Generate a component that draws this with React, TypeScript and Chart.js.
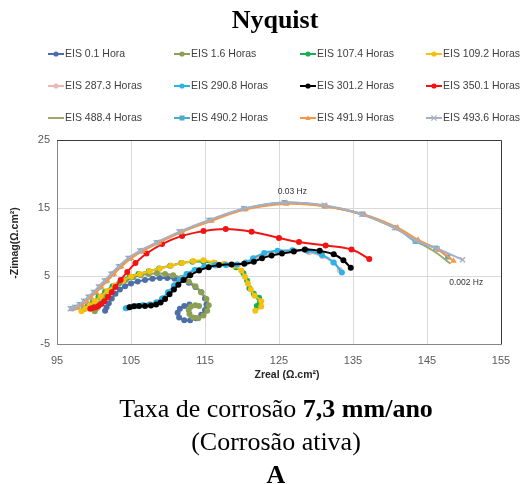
import React, { useEffect, useRef } from 'react';
import { Chart, registerables } from 'chart.js';
Chart.register(...registerables);

// ---------- data ----------
const seriesLabels = [
  'EIS 0.1 Hora', 'EIS 1.6 Horas', 'EIS 107.4 Horas', 'EIS 109.2 Horas',
  'EIS 287.3 Horas', 'EIS 290.8 Horas', 'EIS 301.2 Horas', 'EIS 350.1 Horas',
  'EIS 488.4 Horas', 'EIS 490.2 Horas', 'EIS 491.9 Horas', 'EIS 493.6 Horas',
];
const seriesColors = [
  '#4D6FA8', '#8C9F52', '#1AAF54', '#F5C010',
  '#E6B9B8', '#2AB3E6', '#000000', '#F01414',
  '#A2A86B', '#4BACC6', '#F79646', '#A9AFC3',
];
const seriesMarkers = [
  'circle', 'circle', 'circle', 'circle',
  'circle', 'circle', 'circle', 'circle',
  'none', 'rect', 'triangle', 'crossRot',
];

const eis01 = [[101.5,-0.1],[101.7,0.4],[102.0,1.0],[102.4,1.7],[102.9,2.4],[103.5,3.0],[104.2,3.5],[105.0,3.9],[105.9,4.2],[106.9,4.4],[107.9,4.6],[108.9,4.7],[109.9,4.7],[110.9,4.6],[111.9,4.4],[112.8,4.0],[113.7,3.4],[114.5,2.6],[115.0,1.7],[115.2,0.8],[115.0,0.0],[114.5,-0.7],[113.8,-1.2],[113.0,-1.5],[112.2,-1.5],[111.5,-1.1],[111.3,-0.4],[111.6,0.2],[112.2,0.6],[112.9,0.8]];
const eis16 = [[100.1,-0.2],[100.4,0.3],[100.8,1.0],[101.3,1.8],[101.9,2.6],[102.6,3.3],[103.4,3.9],[104.3,4.4],[105.3,4.8],[106.3,5.1],[107.4,5.3],[108.5,5.4],[109.6,5.3],[110.7,5.1],[111.8,4.7],[112.8,4.2],[113.7,3.5],[114.5,2.6],[115.2,1.6],[115.5,0.7],[115.3,-0.1],[114.8,-0.8],[114.1,-1.2],[113.4,-1.1],[112.9,-0.6],[112.8,0.0],[113.1,0.5],[113.7,0.7],[114.2,0.6]];
const eis1074 = [[98.6,0.1],[99.1,0.5],[99.8,1.1],[100.6,1.9],[101.5,2.7],[102.5,3.5],[103.6,4.2],[104.8,4.8],[106.0,5.3],[107.4,5.7],[108.8,6.1],[110.3,6.5],[111.8,6.9],[113.3,7.1],[114.8,7.1],[116.3,6.9],[117.8,6.7],[119.2,6.3],[120.2,5.4],[120.7,4.3],[121.0,3.2],[121.6,2.4],[122.3,1.8],[122.4,1.1],[122.0,0.6]];
const eis1092 = [[98.3,-0.2],[98.8,0.2],[99.4,0.7],[100.1,1.3],[100.9,2.0],[101.8,2.8],[102.8,3.6],[103.9,4.3],[105.0,4.9],[106.2,5.3],[107.5,5.7],[108.9,6.1],[110.4,6.5],[111.9,6.9],[113.4,7.2],[114.8,7.3],[116.2,7.0],[117.6,6.8],[118.9,6.5],[119.9,5.8],[120.4,4.9],[120.8,3.9],[121.2,3.0],[121.7,2.1],[122.6,1.3],[122.6,0.5],[121.8,-0.1]];
const eis2873 = [[104.5,0.3],[105.1,0.5],[105.9,0.6],[106.8,0.7],[107.7,0.8],[108.6,1.2],[109.4,1.8],[110.2,2.7],[111.0,3.7],[111.8,4.6],[112.7,5.3],[113.8,5.9],[115.1,6.3],[116.5,6.5],[118.0,6.6],[119.5,6.7],[120.7,7.0],[121.9,7.6],[123.4,8.3],[125.1,8.6],[127.1,8.7],[129.1,8.5],[130.9,7.9],[132.3,7.0],[133.2,5.9]];
const eis2908 = [[104.3,0.25],[104.9,0.45],[105.7,0.6],[106.6,0.7],[107.5,0.8],[108.4,1.1],[109.2,1.7],[110.0,2.6],[110.8,3.6],[111.6,4.5],[112.5,5.3],[113.6,5.9],[114.9,6.4],[116.3,6.6],[117.8,6.6],[119.3,6.7],[120.5,7.0],[121.5,7.6],[123.0,8.4],[124.8,8.7],[126.8,8.8],[128.8,8.7],[130.8,8.1],[132.4,7.0],[133.5,5.5]];
const eis3012 = [[104.8,0.4],[105.4,0.55],[106.1,0.6],[106.9,0.6],[107.7,0.65],[108.4,0.8],[109.0,1.1],[109.6,1.6],[110.2,2.3],[110.8,3.0],[111.4,3.7],[112.1,4.4],[113.0,5.1],[114.2,5.8],[115.5,6.3],[116.9,6.6],[118.6,6.7],[120.3,6.8],[121.6,7.1],[122.7,7.6],[124.0,8.0],[125.4,8.3],[127.0,8.6],[128.5,8.9],[130.5,8.7],[132.4,8.2],[133.7,7.3],[134.7,6.2]];
const eis3501 = [[99.5,0.2],[99.8,0.3],[100.2,0.4],[100.6,0.6],[101.0,0.9],[101.4,1.3],[101.9,1.9],[102.4,2.6],[102.9,3.4],[103.6,4.4],[104.5,5.6],[105.6,6.9],[107.1,8.3],[109.2,9.7],[111.9,10.9],[114.8,11.6],[117.8,11.9],[121.3,11.5],[125.0,10.6],[127.7,10.0],[131.3,9.5],[134.8,8.9],[137.2,7.5]];
const eis4884 = [[96.9,0.2],[97.5,0.4],[98.1,0.8],[98.7,1.3],[99.3,1.9],[100.0,2.6],[100.7,3.4],[101.5,4.3],[102.4,5.3],[103.4,6.4],[104.7,7.6],[106.3,8.7],[108.5,9.9],[111.6,11.4],[115.6,13.1],[120.3,14.8],[125.8,15.7],[131.2,15.3],[136.3,14.0],[140.7,12.0],[143.6,10.1],[146.0,8.6],[148.2,6.8]];
const eis4902 = [[97.0,0.2],[97.6,0.4],[98.2,0.8],[98.8,1.3],[99.4,1.9],[100.1,2.6],[100.8,3.4],[101.6,4.3],[102.5,5.3],[103.5,6.4],[104.8,7.6],[106.4,8.7],[108.6,9.9],[111.7,11.5],[115.7,13.2],[120.3,14.9],[125.8,15.8],[131.2,15.3],[136.3,14.1],[140.8,12.1],[143.4,10.1],[146.2,9.1],[147.8,7.8]];
const eis4919 = [[97.2,0.2],[97.8,0.4],[98.4,0.8],[99.0,1.3],[99.6,1.9],[100.3,2.6],[101.0,3.4],[101.8,4.3],[102.7,5.3],[103.7,6.4],[105.0,7.6],[106.6,8.7],[108.8,9.9],[111.9,11.5],[115.9,13.1],[120.5,14.8],[126.0,15.6],[131.4,15.2],[136.6,14.0],[141.0,12.1],[143.8,10.3],[146.6,8.8],[148.6,7.2]];
const eis4936 = [[96.8,0.2],[97.4,0.4],[98.0,0.8],[98.6,1.3],[99.2,1.9],[99.9,2.6],[100.6,3.4],[101.4,4.3],[102.3,5.3],[103.3,6.4],[104.6,7.6],[106.2,8.7],[108.4,9.9],[111.5,11.5],[115.5,13.2],[120.2,14.9],[125.7,15.8],[131.1,15.4],[136.2,14.1],[140.6,12.1],[143.5,10.2],[146.4,9.0],[149.8,7.4]];
const seriesData = [eis01, eis16, eis1074, eis1092, eis2873, eis2908, eis3012, eis3501, eis4884, eis4902, eis4919, eis4936];

const xTicks = [95, 105, 115, 125, 135, 145, 155];
const yTicks = [-5, 5, 15, 25];

const hzLabels = ['0.03 Hz', '0.002 Hz'];
const hzX = [126.8, 150.3];
const hzY = [17.35, 3.95];

const chartTitle = 'Nyquist';
const xTitle = 'Zreal (Ω.cm²)';
const yTitle = '-Zimag(Ω.cm²)';

// ---------- drawing helpers ----------
const SANS = '"Liberation Sans", Arial, sans-serif';
const SERIF = '"Liberation Serif", "Times New Roman", serif';

function drawMarker(ctx: CanvasRenderingContext2D, style: string, x: number, y: number, r: number, color: string) {
  ctx.fillStyle = color;
  ctx.strokeStyle = color;
  if (style === 'circle') {
    ctx.beginPath(); ctx.arc(x, y, r, 0, Math.PI * 2); ctx.fill();
  } else if (style === 'rect') {
    ctx.fillRect(x - r, y - r, 2 * r, 2 * r);
  } else if (style === 'triangle') {
    ctx.beginPath(); ctx.moveTo(x, y - r * 1.1); ctx.lineTo(x + r, y + r * 0.8); ctx.lineTo(x - r, y + r * 0.8); ctx.closePath(); ctx.fill();
  } else if (style === 'crossRot') {
    ctx.lineWidth = 1.3;
    ctx.beginPath(); ctx.moveTo(x - r, y - r); ctx.lineTo(x + r, y + r); ctx.moveTo(x + r, y - r); ctx.lineTo(x - r, y + r); ctx.stroke();
  }
}

const decorPlugin = {
  id: 'decor',
  afterDraw(chart: any) {
    const ctx: CanvasRenderingContext2D = chart.ctx;
    const ca = chart.chartArea;
    ctx.save();
    // plot border (top & right)
    ctx.strokeStyle = '#3a3a3a';
    ctx.lineWidth = 1;
    ctx.beginPath();
    ctx.moveTo(ca.left, Math.round(ca.top) + 0.5);
    ctx.lineTo(Math.round(ca.right) + 0.5, Math.round(ca.top) + 0.5);
    ctx.lineTo(Math.round(ca.right) + 0.5, ca.bottom);
    ctx.stroke();
    // title
    ctx.fillStyle = '#000';
    ctx.font = `bold 26px ${SERIF}`;
    ctx.textAlign = 'center';
    ctx.textBaseline = 'alphabetic';
    ctx.fillText(chartTitle, 275, 28);
    // legend
    ctx.font = `10.5px ${SANS}`;
    ctx.textBaseline = 'middle';
    ctx.textAlign = 'left';
    const colX = [48, 174, 300, 426];
    const rowY = [54, 86, 118];
    seriesLabels.forEach((lab, i) => {
      const x0 = colX[i % 4];
      const y0 = rowY[Math.floor(i / 4)];
      ctx.strokeStyle = seriesColors[i];
      ctx.lineWidth = 2;
      ctx.beginPath(); ctx.moveTo(x0, y0); ctx.lineTo(x0 + 16, y0); ctx.stroke();
      drawMarker(ctx, seriesMarkers[i], x0 + 8, y0, seriesMarkers[i] === 'rect' ? 2.5 : 2.6, seriesColors[i]);
      ctx.fillStyle = '#404040';
      ctx.fillText(lab, x0 + 17, y0 + 0.5);
    });
    // axis titles
    ctx.fillStyle = '#262626';
    ctx.font = `bold 10.5px ${SANS}`;
    ctx.textAlign = 'center';
    ctx.textBaseline = 'middle';
    ctx.fillText(xTitle, 287, 375);
    ctx.save();
    ctx.translate(15, 243);
    ctx.rotate(-Math.PI / 2);
    ctx.font = `bold 10.5px ${SANS}`;
    ctx.fillText(yTitle, 0, 0);
    ctx.restore();
    // frequency annotations
    ctx.font = `8.5px ${SANS}`;
    ctx.fillStyle = '#333';
    ctx.textAlign = 'center';
    hzLabels.forEach((t, i) => {
      ctx.fillText(t, chart.scales.x.getPixelForValue(hzX[i]), chart.scales.y.getPixelForValue(hzY[i]));
    });
    ctx.restore();
  },
};

export default function App() {
  const ref = useRef<HTMLCanvasElement>(null);
  useEffect(() => {
    if (!ref.current) return;
    const n = seriesData.length;
    const chart = new Chart(ref.current, {
      type: 'scatter',
      data: {
        datasets: seriesData.map((d, i) => ({
          label: seriesLabels[i],
          data: d.map(([x, y]) => ({ x, y })),
          showLine: true,
          borderColor: seriesColors[i],
          backgroundColor: seriesColors[i],
          borderWidth: 2,
          tension: 0.4,
          fill: false,
          order: n - i,
          pointStyle: seriesMarkers[i] === 'none' ? 'circle' : seriesMarkers[i],
          pointRadius: seriesMarkers[i] === 'none' ? 0 : seriesMarkers[i] === 'circle' ? 3 : 3.6,
          pointBorderWidth: seriesMarkers[i] === 'crossRot' ? 1.4 : 0,
          pointBorderColor: seriesColors[i],
          pointBackgroundColor: seriesColors[i],
        })),
      },
      options: {
        responsive: false,
        animation: false,
        layout: { padding: { left: 0, right: 23, top: 140, bottom: 100 } },
        plugins: {
          legend: { display: false },
          title: { display: false },
          tooltip: { enabled: false },
        },
        scales: {
          x: {
            type: 'linear',
            min: 95,
            max: 155,
            afterBuildTicks: (s: any) => { s.ticks = xTicks.map((v) => ({ value: v })); },
            afterFit: (s: any) => { s.height = 40; },
            ticks: { padding: 10, color: '#595959', font: { family: SANS, size: 11 } },
            grid: { color: '#d9d9d9', drawTicks: false },
            border: { color: '#868686', width: 1 },
            title: { display: false },
          },
          y: {
            type: 'linear',
            min: -5,
            max: 25,
            afterBuildTicks: (s: any) => { s.ticks = yTicks.map((v) => ({ value: v })); },
            afterFit: (s: any) => { s.width = 57; },
            ticks: { padding: 7, color: '#595959', font: { family: SANS, size: 11 } },
            grid: { color: '#d9d9d9', drawTicks: false },
            border: { color: '#868686', width: 1 },
            title: { display: false },
          },
        },
      },
      plugins: [decorPlugin],
    } as any);
    return () => chart.destroy();
  }, []);

  return (
    <div style={{ position: 'absolute', left: 0, top: 0, width: 524, height: 484, background: '#fff', overflow: 'hidden' }}>
      <canvas ref={ref} width={524} height={484} style={{ position: 'absolute', left: 0, top: 0, width: 524, height: 484 }} />
      <div style={{ position: 'absolute', left: 76, top: 392, width: 400, textAlign: 'center', fontFamily: SERIF, fontSize: 26, lineHeight: '33px', color: '#000' }}>
        <div>Taxa de corrosão <b>7,3 mm/ano</b></div>
        <div>(Corrosão ativa)</div>
        <div><b>A</b></div>
      </div>
    </div>
  );
}
